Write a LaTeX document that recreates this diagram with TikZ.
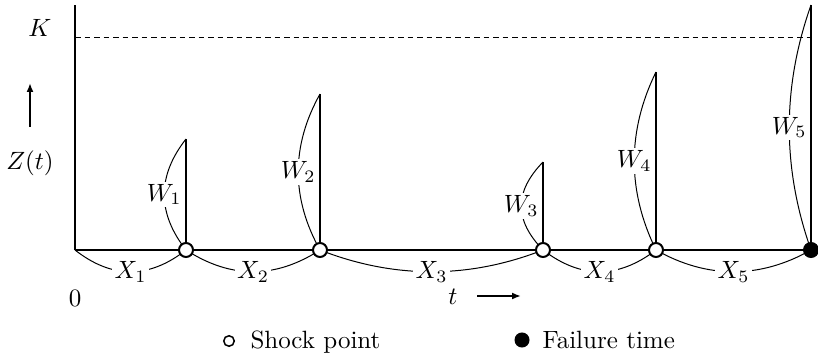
\documentclass[tikz,border=0pt]{standalone}
\usetikzlibrary{arrows.meta}
\begin{document}
\begin{tikzpicture}[x=0.4pt,y=-0.4pt,
  thick line/.style={line width=0.8pt},
  thin line/.style={line width=0.4pt},
  shock/.style={circle,draw,fill=white,line width=0.8pt,minimum size=5.6pt,inner sep=0pt},
  failure/.style={circle,draw,fill=black,line width=0.8pt,minimum size=5.6pt,inner sep=0pt},
  lab/.style={fill=white,inner sep=1pt},
  legshock/.style={circle,draw,fill=white,line width=0.6pt,minimum size=4.2pt,inner sep=0pt},
  legfail/.style={circle,draw,fill=black,minimum size=5.6pt,inner sep=0pt},
  tip/.style={line width=0.7pt,-{Latex[length=3.6pt,width=2.8pt]}}]
\useasboundingbox (0,0) rectangle (818,358);
% axes
\coordinate (o) at (75,250);
\coordinate (ytop) at (75,5);
\draw[line width=0.5pt] (o) -- (ytop);
\coordinate (kl) at (75,38);
\coordinate (kr) at (811,38);
\draw[thin line,dash pattern=on 2.2pt off 1.6pt] (kl) -- (kr);
% tops
\coordinate (t1) at (186,139);
\coordinate (t2) at (320,94);
\coordinate (t3) at (543,162);
\coordinate (t4) at (656,72);
\coordinate (t5) at (811,5);
\coordinate (b1) at (186,250);
\coordinate (b2) at (320,250);
\coordinate (b3) at (543,250);
\coordinate (b4) at (656,250);
\coordinate (b5) at (811,250);
\draw[thick line] (o) -- (b5);
\draw[thick line] (b1) -- (t1);
\draw[thick line] (b2) -- (t2);
\draw[thick line] (b3) -- (t3);
\draw[thick line] (b4) -- (t4);
\draw[thick line] (b5) -- (t5);
% W arcs
\draw[thin line] (b1) .. controls +(-29,-37) and +(-29,37) .. node[lab]{$W_1$} (t1);
\draw[thin line] (b2) .. controls +(-29,-52) and +(-29,52) .. node[lab]{$W_2$} (t2);
\draw[thin line] (b3) .. controls +(-29,-30) and +(-29,30) .. node[lab]{$W_3$} (t3);
\draw[thin line] (b4) .. controls +(-29,-59) and +(-29,59) .. node[lab]{$W_4$} (t4);
\draw[thin line] (b5) .. controls +(-29,-82) and +(-29,82) .. node[lab]{$W_5$} (t5);
% X arcs
\draw[thin line] (o) .. controls +(37,29) and +(-37,29) .. node[lab]{$X_1$} (b1);
\draw[thin line] (b1) .. controls +(45,29) and +(-45,29) .. node[lab]{$X_2$} (b2);
\draw[thin line] (b2) .. controls +(74,29) and +(-74,29) .. node[lab]{$X_3$} (b3);
\draw[thin line] (b3) .. controls +(38,29) and +(-38,29) .. node[lab]{$X_4$} (b4);
\draw[thin line] (b4) .. controls +(51,29) and +(-51,29) .. node[lab]{$X_5$} (b5);
% points
\node[shock] (s1) at (b1) {};
\node[shock] (s2) at (b2) {};
\node[shock] (s3) at (b3) {};
\node[shock] (s4) at (b4) {};
\node[failure] (f5) at (b5) {};
% labels
\node (K) at (40,28) {$K$};
\node (Z) at (30,163) {$Z(t)$};
\coordinate (za) at (30,127);
\coordinate (zb) at (30,83);
\draw[tip] (za) -- (zb);
\node (zero) at (75,298) {$0$};
\node (t) at (453,297) {$t$};
\coordinate (ta) at (477,296);
\coordinate (tb) at (521,296);
\draw[tip] (ta) -- (tb);
% legend
\node[legshock] (ls) at (229,341) {};
\node[anchor=base west,inner sep=0pt] (lst) at (250,349) {Shock point};
\node[legfail] (lf) at (522,340) {};
\node[anchor=base west,inner sep=0pt] (lft) at (542,349) {Failure time};
\end{tikzpicture}
\end{document}
